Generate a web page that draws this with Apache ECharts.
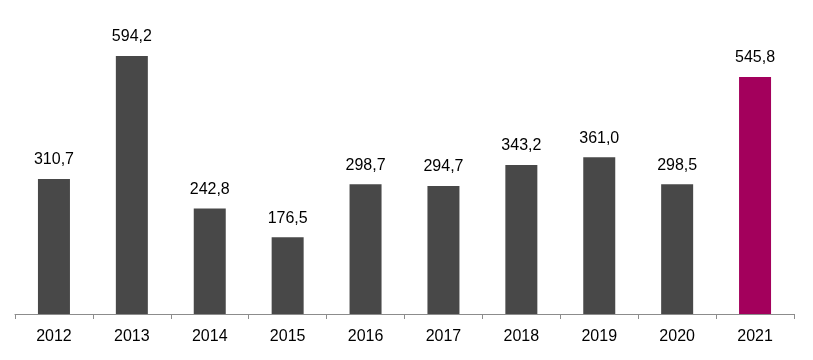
<!DOCTYPE html>
<html><head><meta charset="utf-8">
<script src="https://cdn.jsdelivr.net/npm/echarts@6/dist/echarts.min.js"></script>
<style>html,body{margin:0;padding:0;background:#fff}#c{width:813px;height:360px}</style>
</head><body><div id="c"></div>
<script>
var categories = ['2012','2013','2014','2015','2016','2017','2018','2019','2020','2021'];
var values = [310.7, 594.2, 242.8, 176.5, 298.7, 294.7, 343.2, 361.0, 298.5, 545.8];
var highlight = '2021';
var chart = echarts.init(document.getElementById('c'));
chart.setOption({
  animation: false,
  grid: {left: 15, right: 19, top: 10, bottom: 46},
  xAxis: {
    type: 'category', data: categories,
    axisLine: {lineStyle: {color: '#8c8c8c', width: 1}},
    axisTick: {show: true, length: 5, lineStyle: {color: '#8c8c8c'}},
    axisLabel: {color: '#000', fontSize: 16, fontFamily: 'Liberation Sans, Arial, sans-serif', margin: 15}
  },
  yAxis: {type: 'value', min: 0, max: 700, show: false, splitLine: {show: false}},
  series: [{
    type: 'bar', barWidth: 32,
    data: values.map(function(v, i){
      return {value: v, itemStyle: {color: categories[i] === highlight ? '#a3005c' : '#484848'}};
    }),
    label: {
      show: true, position: 'top', distance: 11, color: '#000', fontSize: 16,
      fontFamily: 'Liberation Sans, Arial, sans-serif',
      formatter: function(p){ return p.value.toFixed(1).replace('.', ','); }
    }
  }]
});
</script></body></html>
